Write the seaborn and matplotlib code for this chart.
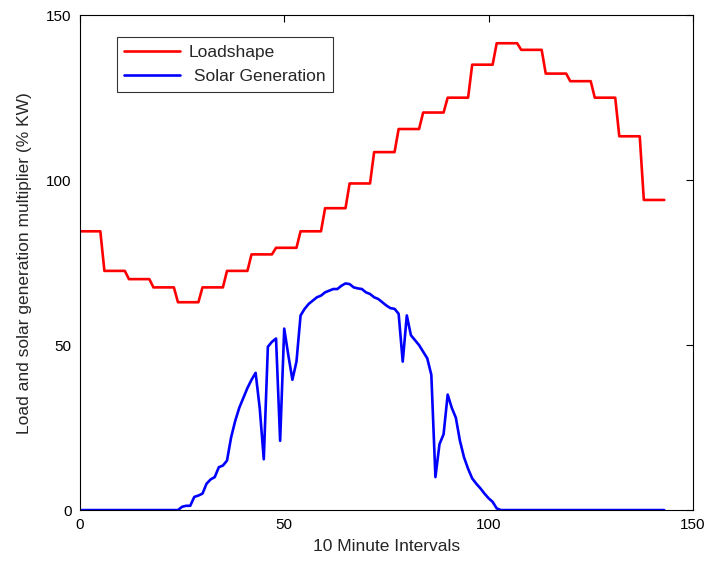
import numpy as np
import pandas as pd
import matplotlib
matplotlib.use("Agg")
import matplotlib.pyplot as plt
import seaborn as sns

intervals = list(range(144))

loadshape = [
    84.5, 84.5, 84.5, 84.5, 84.5, 84.5, 72.5, 72.5, 72.5, 72.5, 72.5, 72.5,
    70.0, 70.0, 70.0, 70.0, 70.0, 70.0, 67.5, 67.5, 67.5, 67.5, 67.5, 67.5,
    63.0, 63.0, 63.0, 63.0, 63.0, 63.0, 67.5, 67.5, 67.5, 67.5, 67.5, 67.5,
    72.5, 72.5, 72.5, 72.5, 72.5, 72.5, 77.5, 77.5, 77.5, 77.5, 77.5, 77.5,
    79.5, 79.5, 79.5, 79.5, 79.5, 79.5, 84.5, 84.5, 84.5, 84.5, 84.5, 84.5,
    91.5, 91.5, 91.5, 91.5, 91.5, 91.5, 99.0, 99.0, 99.0, 99.0, 99.0, 99.0,
    108.5, 108.5, 108.5, 108.5, 108.5, 108.5, 115.5, 115.5, 115.5, 115.5, 115.5, 115.5,
    120.5, 120.5, 120.5, 120.5, 120.5, 120.5, 125.0, 125.0, 125.0, 125.0, 125.0, 125.0,
    135.0, 135.0, 135.0, 135.0, 135.0, 135.0, 141.5, 141.5, 141.5, 141.5, 141.5, 141.5,
    139.5, 139.5, 139.5, 139.5, 139.5, 139.5, 132.3, 132.3, 132.3, 132.3, 132.3, 132.3,
    130.0, 130.0, 130.0, 130.0, 130.0, 130.0, 125.0, 125.0, 125.0, 125.0, 125.0, 125.0,
    113.3, 113.3, 113.3, 113.3, 113.3, 113.3, 94.0, 94.0, 94.0, 94.0, 94.0, 94.0,
]

solar = [
    0, 0, 0, 0, 0, 0, 0, 0, 0, 0, 0, 0,
    0, 0, 0, 0, 0, 0, 0, 0, 0, 0, 0, 0,
    0, 1.0, 1.3, 1.3, 4.0, 4.4, 5.0, 8.0, 9.3, 10.0, 13.0, 13.5,
    15.0, 22.0, 27.0, 31.0, 34.0, 37.0, 39.5, 41.6, 31.0, 15.4, 49.5, 51.0,
    52.0, 21.0, 55.0, 47.0, 39.5, 45.0, 59.0, 61.0, 62.5, 63.5, 64.5, 65.0,
    66.0, 66.5, 67.0, 67.0, 68.0, 68.7, 68.5, 67.5, 67.2, 67.0, 66.0, 65.5,
    64.5, 64.0, 63.0, 62.0, 61.2, 61.0, 59.5, 45.0, 59.0, 53.0, 51.5, 50.0,
    48.0, 46.0, 41.0, 10.0, 20.0, 23.0, 35.0, 31.0, 28.0, 21.0, 16.0, 12.5,
    9.6, 8.0, 6.6, 5.0, 3.6, 2.5, 0.5, 0, 0, 0, 0, 0,
    0, 0, 0, 0, 0, 0, 0, 0, 0, 0, 0, 0,
    0, 0, 0, 0, 0, 0, 0, 0, 0, 0, 0, 0,
    0, 0, 0, 0, 0, 0, 0, 0, 0, 0, 0, 0,
]

series_names = ["Loadshape", " Solar Generation"]
x_ticks = [0, 50, 100, 150]
y_ticks = [0, 50, 100, 150]

df = pd.DataFrame({
    "Interval": intervals * 2,
    "Value": loadshape + solar,
    "Series": [series_names[0]] * 144 + [series_names[1]] * 144,
})

sns.set_style("white")
plt.rcParams["font.family"] = ["Liberation Sans", "DejaVu Sans"]

fig = plt.figure(figsize=(7.07, 5.63), dpi=100)
ax = fig.add_axes([0.113, 0.094, 0.867, 0.879])

sns.lineplot(data=df, x="Interval", y="Value", hue="Series",
             palette=["#ff0000", "#0000ff"], linewidth=1.9, ax=ax)

ax.set_xlim(0, 150)
ax.set_ylim(0, 150)
ax.set_xticks(x_ticks)
ax.set_yticks(y_ticks)
ax.tick_params(direction="in", length=5, width=0.8, top=True, right=True,
               labelsize=11, colors="black", pad=6)
for s in ax.spines.values():
    s.set_visible(True)
    s.set_color("black")
    s.set_linewidth(0.8)

ax.set_xlabel("10 Minute Intervals", fontsize=12.5, labelpad=5)
ax.set_ylabel("Load and solar generation multiplier (% KW)", fontsize=12.5, labelpad=10)

leg = ax.legend(loc="upper left", bbox_to_anchor=(0.06, 0.955), fontsize=12.5,
                handlelength=3.2, frameon=True, fancybox=False, borderpad=0.45,
                labelspacing=0.5, handletextpad=0.5, borderaxespad=0, title=None)
leg.get_frame().set_edgecolor("black")
leg.get_frame().set_linewidth(0.8)

fig.savefig("out.png", dpi=100)
